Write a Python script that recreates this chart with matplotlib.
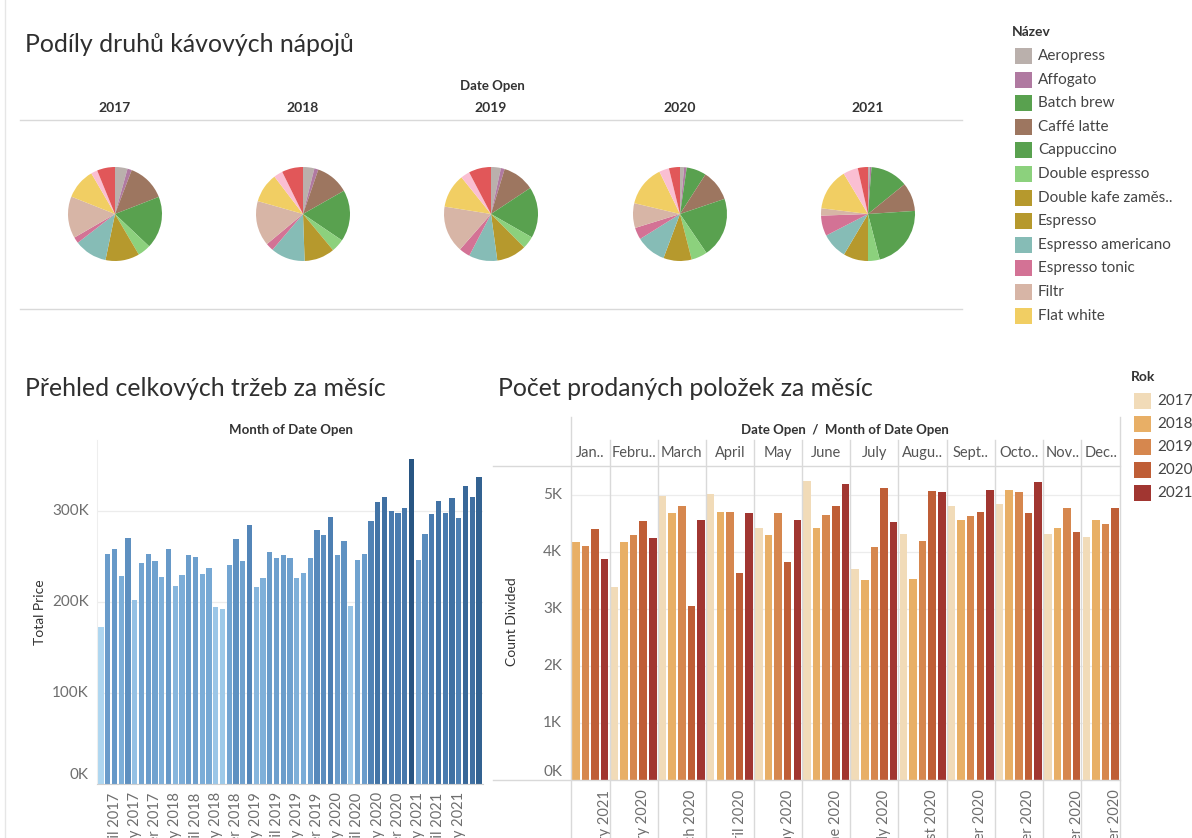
import matplotlib
matplotlib.use("Agg")
import matplotlib.pyplot as plt
from matplotlib.lines import Line2D
from matplotlib.patches import Rectangle
from matplotlib.colors import LinearSegmentedColormap, Normalize
import pandas as pd

plt.rcParams['font.family'] = ['Lato', 'DejaVu Sans']

# ------------------------------------------------------------------ data
pie_years = [2017, 2018, 2019, 2020, 2021]
drink_names = ['Aeropress', 'Affogato', 'Batch brew', 'Caffé latte', 'Cappuccino',
               'Double espresso', 'Double kafe zaměs..', 'Espresso', 'Espresso americano',
               'Espresso tonic', 'Filtr', 'Flat white', 'Ostatní A', 'Ostatní B']
drink_colors = ['#BAB0AC', '#B07AA1', '#59A14F', '#9D7660', '#59A14F', '#8CD17D',
                '#B6992D', '#B6992D', '#86BCB6', '#D37295', '#D7B5A6', '#F1CE63',
                '#FABFD2', '#E15759']
legend_items = 12  # legend in the dashboard is cut after "Flat white"

share_2017 = [4.3, 1.5, 0.0, 13.3, 18.0, 4.5, 0.0, 11.7, 11.3, 2.1, 14.4, 10.6, 2.2, 6.2]
share_2018 = [3.9, 1.4, 0.0, 11.5, 17.7, 4.5, 0.0, 10.5, 11.8, 2.7, 15.5, 10.2, 3.1, 7.3]
share_2019 = [3.4, 1.3, 0.0, 11.0, 17.6, 4.3, 0.0, 10.3, 9.8, 3.8, 16.1, 11.7, 3.1, 7.7]
share_2020 = [1.4, 0.9, 6.8, 10.7, 20.7, 5.5, 0.0, 9.7, 10.4, 4.1, 8.5, 14.1, 3.4, 3.8]
share_2021 = [0.6, 0.6, 12.9, 9.8, 22.0, 4.0, 0.0, 8.5, 8.9, 7.0, 2.5, 14.4, 5.1, 3.5]
pie_shares = [share_2017, share_2018, share_2019, share_2020, share_2021]

# Total price per month (thousands), Feb 2017 .. Oct 2021
total_price_k = [172.7, 253, 258, 229, 270, 202, 243, 253, 245, 227, 258,
                 218, 230, 252, 249, 231, 237, 195, 192, 241, 269, 245, 285,
                 217, 226, 255, 248, 252, 248, 226, 232, 248, 279, 274, 293,
                 252, 267, 196, 246, 253, 289, 310, 315, 300, 298, 303, 357,
                 246, 275, 297, 311, 298, 314, 292, 327, 315, 337]
first_month = '2017-02-01'

# Count divided per month (thousands) by year
rok_years = [2017, 2018, 2019, 2020, 2021]
rok_colors = ['#F1DBB8', '#E8AF66', '#D6874E', '#BF5E36', '#A13631']
count_2017 = [None, 3.38, 4.98, 5.02, 4.42, 5.25, 3.70, 4.32, 4.81, 4.84, 4.32, 4.26]
count_2018 = [4.17, 4.17, 4.68, 4.71, 4.30, 4.42, 3.51, 3.53, 4.57, 5.09, 4.43, 4.57]
count_2019 = [4.11, 4.30, 4.80, 4.71, 4.68, 4.65, 4.09, 4.19, 4.63, 5.05, 4.77, 4.50]
count_2020 = [4.40, 4.54, 3.06, 3.63, 3.82, 4.81, 5.13, 5.07, 4.71, 4.69, 4.36, 4.77]
count_2021 = [3.88, 4.24, 4.57, 4.68, 4.57, 5.19, 4.53, 5.05, 5.09, 5.23, None, None]
counts = [count_2017, count_2018, count_2019, count_2020, count_2021]
month_headers = ['Jan..', 'Febru..', 'March', 'April', 'May', 'June', 'July',
                 'Augu..', 'Sept..', 'Octo..', 'Nov..', 'Dec..']
month_names = ['January', 'February', 'March', 'April', 'May', 'June', 'July',
               'August', 'September', 'October', 'November', 'December']
bottom_label_years = [2021, 2020, 2020, 2020, 2020, 2020, 2020, 2020, 2020, 2020, 2020, 2020]

# ------------------------------------------------------------------ layout helpers
W, H = 1192, 838
fig = plt.figure(figsize=(W / 100, H / 100), dpi=100)
fig.patch.set_facecolor('white')

TXT = '#333333'
GRAY = '#6e6e6e'
LINE = '#d9d9d9'


def box(x0, y0, x1, y1):
    return [x0 / W, 1 - y1 / H, (x1 - x0) / W, (y1 - y0) / H]


def ftext(x, y, s, **kw):
    kw.setdefault('color', TXT)
    return fig.text(x / W, 1 - y / H, s, **kw)


def hline(x0, x1, y, color=LINE, lw=1.0):
    fig.add_artist(Line2D([x0 / W, x1 / W], [1 - y / H, 1 - y / H],
                          transform=fig.transFigure, color=color, lw=lw))


def vline(x, y0, y1, color=LINE, lw=1.0):
    fig.add_artist(Line2D([x / W, x / W], [1 - y0 / H, 1 - y1 / H],
                          transform=fig.transFigure, color=color, lw=lw))


def frect(x, y, w, h, color):
    fig.add_artist(Rectangle((x / W, 1 - (y + h) / H), w / W, h / H,
                             transform=fig.transFigure, facecolor=color,
                             edgecolor='none'))


vline(5, 0, H, color='#e6e6e6')

TITLE_KW = dict(fontsize=17.9, fontweight='normal', color='#2f2f2f', ha='left', va='center')

# ------------------------------------------------------------------ pies
ftext(25, 45, 'Podíly druhů kávových nápojů', **TITLE_KW)
ftext(492, 86, 'Date Open', fontsize=9.5, fontweight='bold', ha='center', va='center')
pie_cx = [115, 303, 491, 680, 868]
pie_cy, pie_r = 214, 47
for cx, yr, shares in zip(pie_cx, pie_years, pie_shares):
    ftext(cx, 108, str(yr), fontsize=10, fontweight='bold', ha='center', va='center')
    ax = fig.add_axes(box(cx - pie_r * 1.02, pie_cy - pie_r * 1.02,
                          cx + pie_r * 1.02, pie_cy + pie_r * 1.02))
    ax.pie(shares, colors=drink_colors, startangle=90, counterclock=False,
           wedgeprops=dict(linewidth=0))
    ax.set_xlim(-1.02, 1.02)
    ax.set_ylim(-1.02, 1.02)
    ax.set_aspect('equal')
hline(20, 962, 120)
hline(20, 962, 309)

# legend Název
ftext(1012, 32, 'Název', fontsize=10, fontweight='bold', ha='left', va='center')
for i in range(legend_items):
    yc = 56 + i * 23.6
    frect(1015, yc - 8, 17, 16, drink_colors[i])
    ftext(1038, yc, drink_names[i], fontsize=11, ha='left', va='center', color='#444444')

# ------------------------------------------------------------------ left bar chart
ftext(25, 388, 'Přehled celkových tržeb za měsíc', **TITLE_KW)
ftext(291, 430, 'Month of Date Open', fontsize=9.5, fontweight='bold', ha='center', va='center')
ftext(40, 612, 'Total Price', fontsize=10, rotation=90, ha='center', va='center')

months = pd.date_range(first_month, periods=len(total_price_k), freq='MS')
ax1 = fig.add_axes(box(97, 440, 483, 784))
blue_cmap = LinearSegmentedColormap.from_list(
    'tab_blue', ['#aed6f0', '#78aad6', '#4b7db1', '#285582'])
norm = Normalize(min(total_price_k), max(total_price_k))
xs = list(range(len(total_price_k)))
vals = [v * 1000 for v in total_price_k]
ax1.bar(xs, vals, width=0.8, color=[blue_cmap(norm(v)) for v in total_price_k], zorder=2)
ax1.set_xlim(-0.6, len(xs) - 0.4)
ax1.set_ylim(0, 378000)
yt = [0, 100000, 200000, 300000]
ax1.set_yticks(yt)
ax1.tick_params(axis='y', length=0, labelleft=False)
ax1.grid(axis='y', color='#ececec', lw=0.9, zorder=0)
for v in yt:
    ax1.annotate(f'{v // 1000}K', xy=(0, v), xycoords=ax1.get_yaxis_transform(),
                 xytext=(-8, 9 if v == 0 else 0), textcoords='offset pixels',
                 ha='right', va='center', fontsize=11, color=GRAY)
tick_idx = [i for i in xs if months[i].month in (1, 4, 7, 10) and i < len(xs) - 1]
ax1.set_xticks(tick_idx)
ax1.set_xticklabels([f'{months[i].strftime("%B")} {months[i].year}' for i in tick_idx],
                    rotation=90, fontsize=10.5, color=GRAY, va='top', ha='center')
ax1.tick_params(axis='x', length=0, pad=6)
for s in ['top', 'right']:
    ax1.spines[s].set_visible(False)
ax1.spines['left'].set_color('#eeeeee')
ax1.spines['bottom'].set_color('#d0d0d0')

# ------------------------------------------------------------------ right grouped bars
ftext(498, 388, 'Počet prodaných položek za měsíc', **TITLE_KW)
ftext(845, 430, 'Date Open  /  Month of Date Open', fontsize=9.5, fontweight='bold',
      ha='center', va='center')
ftext(512, 622, 'Count Divided', fontsize=10, rotation=90, ha='center', va='center')

bars_x, bars_v, bars_c, groups = [], [], [], []
pos = 0
for m in range(12):
    start = pos
    for yi, yr in enumerate(rok_years):
        v = counts[yi][m]
        if v is None:
            continue
        bars_x.append(pos)
        bars_v.append(v * 1000)
        bars_c.append(rok_colors[yi])
        pos += 1
    groups.append((start, pos))
n_slots = pos

X0, X1 = 571, 1120
slot = (X1 - X0) / n_slots
ax2 = fig.add_axes(box(X0, 466, X1, 780))
ax2.bar(bars_x, bars_v, width=0.78, color=bars_c, zorder=2)
ax2.set_xlim(-0.5, n_slots - 0.5)
ax2.set_ylim(0, 5510)
yt2 = [0, 1000, 2000, 3000, 4000, 5000]
ax2.set_yticks(yt2)
ax2.tick_params(axis='y', length=0, labelleft=False)
ax2.grid(axis='y', color='#ececec', lw=0.9, zorder=0)
for v in yt2:
    ax2.annotate(f'{v // 1000}K', xy=(0, v), xycoords=ax2.get_yaxis_transform(),
                 xytext=(-9, 8 if v == 0 else 0), textcoords='offset pixels',
                 ha='right', va='center', fontsize=11, color=GRAY)
lab_pos = [g[0] + 3 for g in groups]
ax2.set_xticks(lab_pos)
ax2.set_xticklabels([f'{month_names[m]} {bottom_label_years[m]}' for m in range(12)],
                    rotation=90, fontsize=10.5, color=GRAY, va='top', ha='center')
ax2.tick_params(axis='x', length=0, pad=7)
for s in ax2.spines.values():
    s.set_visible(False)

# frame lines of the month panes
hline(493, X1, 466)
hline(493, X1, 780)
vline(X0, 417, H)
vline(X1, 417, H)
for m, (a, b) in enumerate(groups):
    xa = X0 + a * slot
    xb = X0 + b * slot
    if m > 0:
        vline(xa, 440, H)
    ftext((xa + xb) / 2, 453, month_headers[m], fontsize=10.5, color='#555555',
          ha='center', va='center')

# legend Rok
ftext(1131, 377, 'Rok', fontsize=10, fontweight='bold', ha='left', va='center')
for i, yr in enumerate(rok_years):
    yc = 401 + i * 23
    frect(1134, yc - 8, 17, 16, rok_colors[i])
    ftext(1157, yc, str(yr), fontsize=11, ha='left', va='center', color='#444444')

fig.savefig('out.png', dpi=100)
